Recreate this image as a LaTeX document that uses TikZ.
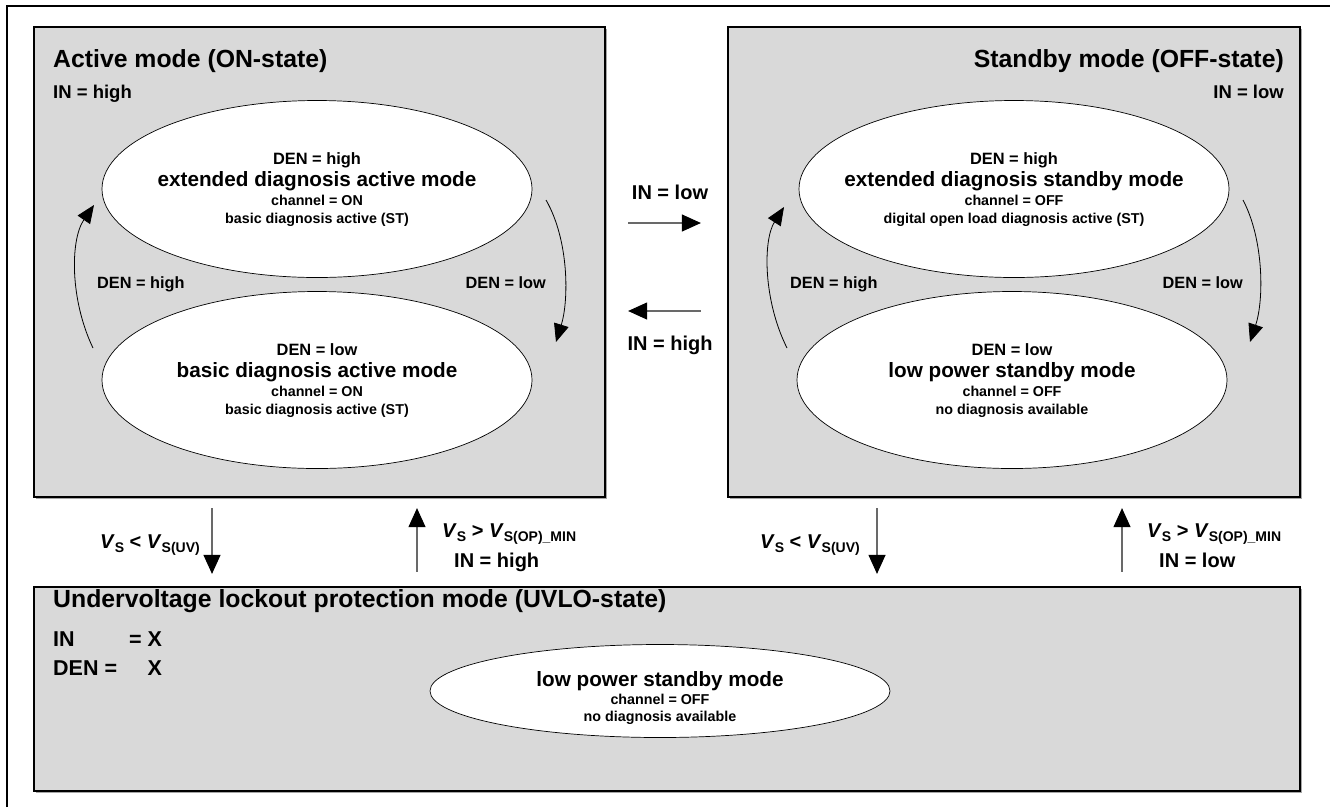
\documentclass[tikz,border=0pt]{standalone}
\usepackage{fontspec}
\setmainfont{Liberation Sans}
\usepackage{tikz}
\usetikzlibrary{arrows.meta,positioning,shapes.geometric,shadows}
\definecolor{boxgrey}{RGB}{217,217,217}
\definecolor{flowgrey}{RGB}{105,105,105}
\newcommand{\fsz}[1]{\fontsize{#1}{#1}\selectfont\bfseries}
\newcommand{\lowsub}[1]{\raisebox{-4pt}{\fontsize{14}{14}\selectfont #1}}

\begin{document}
\begin{tikzpicture}[x=1pt, y=-1pt,
    modebox/.style={draw, line width=2.2pt, fill=boxgrey, inner sep=0pt,
        drop shadow={shadow xshift=1.5pt, shadow yshift=-1.5pt, fill=black!35, opacity=1}},
    ell/.style={ellipse, draw, line width=0.7pt, fill=white, inner sep=0pt},
    boxtitle/.style={font=\fsz{24.8}, inner sep=0pt},
    inlab/.style={font=\fsz{18.5}, inner sep=0pt},
    ehead/.style={font=\fsz{16.4}, inner sep=0pt, anchor=base},
    emain/.style={font=\fsz{20.7}, inner sep=0pt, anchor=base},
    esmall/.style={font=\fsz{14.3}, inner sep=0pt, anchor=base},
    clabel/.style={font=\fsz{16.3}, inner sep=0pt},
    mlabel/.style={font=\fsz{20}, inner sep=0pt},
    flow/.style={flowgrey, line width=1.1pt, -{Triangle[length=19pt,width=17pt,color=black]}},
    bendarrow/.style={black, line width=0.8pt, -{Triangle[length=18pt,width=15pt]}},
]
\useasboundingbox (0,0) rectangle (1330,807);

% === Outer frame ===
\draw[line width=1.5pt] (7,807) -- (7,6) -- (1330,6);

% === Mode boxes ===
\node[modebox, minimum width=571pt, minimum height=470pt] (act) at (319.5,262) {};
\node[modebox, minimum width=572pt, minimum height=470pt] (sby) at (1014,262) {};
\node[modebox, minimum width=1266pt, minimum height=204pt] (uvlo) at (667,689) {};

\node[boxtitle, anchor=base west] (acttitle) at (53,67) {Active mode (ON-state)};
\node[inlab, anchor=base west] (actin) at (53,98) {IN = high};
\node[boxtitle, anchor=base east] (sbytitle) at (1284,67) {Standby mode (OFF-state)};
\node[inlab, anchor=base east] (sbyin) at (1284,98) {IN = low};

% === States inside the boxes ===
\foreach \e/\cx/\cy/\ha/\hb/\hc/\hd in {
    axt/317/189/DEN = high/extended diagnosis active mode/channel = ON/basic diagnosis active (ST),
    axb/317/380/DEN = low/basic diagnosis active mode/channel = ON/basic diagnosis active (ST),
    sbt/1014/189/DEN = high/extended diagnosis standby mode/channel = OFF/digital open load diagnosis active (ST),
    sbb/1012/380/DEN = low/low power standby mode/channel = OFF/no diagnosis available}{
    \node[ell, minimum width=430pt, minimum height=177pt] (\e) at (\cx,\cy) {};
    \node[ehead] (\e-a) at ([yshift=25pt]\e.center) {\ha};
    \node[emain] (\e-b) at ([yshift=3pt]\e.center) {\hb};
    \node[esmall] (\e-c) at ([yshift=-16pt]\e.center) {\hc};
    \node[esmall] (\e-d) at ([yshift=-34pt]\e.center) {\hd};
}

% DEN transitions
\coordinate (a1s) at (93,348);   \coordinate (a1e) at (94,205);
\coordinate (a2s) at (546,200);  \coordinate (a2e) at (556,342);
\coordinate (a3s) at (787,348);  \coordinate (a3e) at (784,207);
\coordinate (a4s) at (1243,200); \coordinate (a4e) at (1250,342);
\draw[bendarrow] (a1s) .. controls (70,300) and (70,240) .. (a1e);
\draw[bendarrow] (a2s) .. controls (569,240) and (569,300) .. (a2e);
\draw[bendarrow] (a3s) .. controls (763,300) and (763,240) .. (a3e);
\draw[bendarrow] (a4s) .. controls (1264,240) and (1264,300) .. (a4e);

\node[clabel, anchor=base west] (l1) at (97,288) {DEN = high};
\node[clabel, anchor=base east] (l2) at (546,288) {DEN = low};
\node[clabel, anchor=base west] (l3) at (790,288) {DEN = high};
\node[clabel, anchor=base east] (l4) at (1243,288) {DEN = low};

% === IN transitions ===
\coordinate (m1) at (0,223);
\coordinate (m2) at (0,311);
\node[mlabel, anchor=base] (offlab) at (670,199) {IN = low};
\node[mlabel, anchor=base] (onlab) at (670,350) {IN = high};
\draw[flow] ([xshift=22pt]act.east |- m1) -- ([xshift=-26pt]sby.west |- m1);
\draw[flow] ([xshift=-26pt]sby.west |- m2) -- ([xshift=22pt]act.east |- m2);

% === UVLO transitions ===
\coordinate (v1) at (212,0);
\coordinate (v2) at (417,0);
\coordinate (v3) at (877,0);
\coordinate (v4) at (1122,0);
\draw[flow] ([yshift=-10pt]act.south -| v1) -- ([yshift=12pt]uvlo.north -| v1);
\draw[flow] ([yshift=14pt]uvlo.north -| v2) -- ([yshift=-10pt]act.south -| v2);
\draw[flow] ([yshift=-10pt]sby.south -| v3) -- ([yshift=12pt]uvlo.north -| v3);
\draw[flow] ([yshift=14pt]uvlo.north -| v4) -- ([yshift=-10pt]sby.south -| v4);

\node[mlabel, anchor=base east] (uv1) at (200,548) {\textit{V}\lowsub{S} < \textit{V}\lowsub{S(UV)}};
\node[mlabel, anchor=base west] (op1) at (442,537) {\textit{V}\lowsub{S} > \textit{V}\lowsub{S(OP)\_MIN}};
\node[mlabel, anchor=base west] (op1in) at (454,567) {IN = high};
\node[mlabel, anchor=base east] (uv2) at (860,548) {\textit{V}\lowsub{S} < \textit{V}\lowsub{S(UV)}};
\node[mlabel, anchor=base west] (op2) at (1147,537) {\textit{V}\lowsub{S} > \textit{V}\lowsub{S(OP)\_MIN}};
\node[mlabel, anchor=base west] (op2in) at (1159,567) {IN = low};

% === UVLO box ===
\node[boxtitle, anchor=base west] (uvtitle) at (53,607) {Undervoltage lockout protection mode (UVLO-state)};
\node[font=\fontsize{21.5}{29}\selectfont\bfseries, inner sep=0pt, anchor=base west] (uvin) at (53,646)
    {\begin{tabular}[t]{@{}l@{\hspace{12pt}}r@{}}IN & = X\\DEN = & X\end{tabular}};

\node[ell, minimum width=460pt, minimum height=93pt] (ulp) at (660,691) {};
\node[emain] (ulp-b) at ([yshift=5pt]ulp.center) {low power standby mode};
\node[esmall] (ulp-c) at ([yshift=-13pt]ulp.center) {channel = OFF};
\node[esmall] (ulp-d) at ([yshift=-30pt]ulp.center) {no diagnosis available};

\end{tikzpicture}
\end{document}
